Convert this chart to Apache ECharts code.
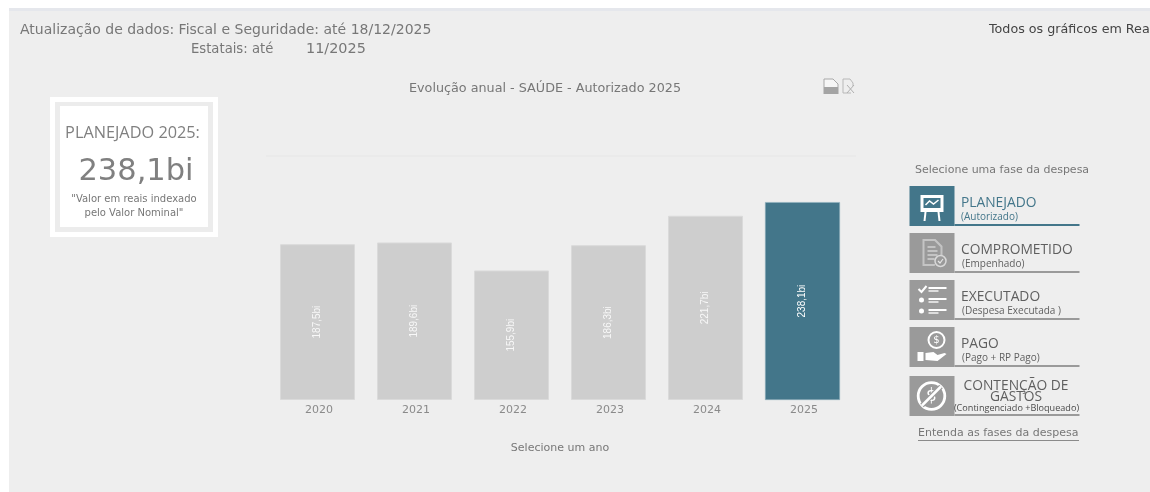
<!DOCTYPE html>
<html>
<head>
<meta charset="utf-8">
<style>
  html, body { margin: 0; padding: 0; background: #fff; }
  #painel { width: 1150px; height: 492px; }
</style>
<script src="https://cdn.jsdelivr.net/npm/echarts@6/dist/echarts.min.js"></script>
</head>
<body>
<div id="painel"></div>
<script>
// Valores anuais da despesa autorizada em saúde, em bilhões de reais
const anos = ['2020', '2021', '2022', '2023', '2024', '2025'];
const autorizado = [187.5, 189.6, 155.9, 186.3, 221.7, 238.1];
const anoSelecionado = '2025';

const fases = [
  { titulo: 'PLANEJADO', sub: '(Autorizado)', y: 186, ativo: true },
  { titulo: 'COMPROMETIDO', sub: '(Empenhado)', y: 233 },
  { titulo: 'EXECUTADO', sub: '(Despesa Executada )', y: 280 },
  { titulo: 'PAGO', sub: '(Pago + RP Pago)', y: 327 },
  { titulo: 'CONTENÇÃO DE', titulo2: 'GASTOS', sub: '(Contingenciado +Bloqueado)', y: 376 }
];

const AZUL = '#43768a';
const CINZA_ICONE = '#9a9a9a';
const FUNDO = '#eeeeee';
const SANS = '"DejaVu Sans", sans-serif';
const FASE = '"Open Sans", sans-serif';

const texto = (x, y, text, fontSize, fill, align = 'left', fontFamily = SANS, fontWeight = 'normal') => ({
  type: 'text', x, y, silent: true,
  style: { text, fontSize, fill, fontFamily, fontWeight, align, verticalAlign: 'middle' }
});
const caixa = (x, y, width, height, fill) => ({
  type: 'rect', shape: { x, y, width, height }, style: { fill }, silent: true
});
const traco = (x1, y1, x2, y2, stroke = '#fff', lineWidth = 2) => ({
  type: 'line', shape: { x1, y1, x2, y2 }, style: { stroke, lineWidth }, silent: true
});
const anel = (cx, cy, r, stroke = '#fff', lineWidth = 2, fill = 'none') => ({
  type: 'circle', shape: { cx, cy, r }, style: { stroke, lineWidth, fill }, silent: true
});
const linhaAberta = (points, stroke = '#fff', lineWidth = 1.5) => ({
  type: 'polyline', shape: { points }, style: { stroke, lineWidth, fill: 'none' }, silent: true
});
const poligono = (points, fill = '#fff') => ({
  type: 'polygon', shape: { points }, style: { fill }, silent: true
});

// Pictogramas das fases, desenhados a partir do canto do quadrado de cada botão
const icones = [
  (x, y) => [
    caixa(x + 11, y + 9, 23, 17, '#fff'),
    caixa(x + 14, y + 12, 17, 10, AZUL),
    linhaAberta([[x + 16, y + 19], [x + 20, y + 15], [x + 24, y + 18], [x + 29, y + 14]]),
    traco(x + 16, y + 26, x + 15, y + 35),
    traco(x + 29, y + 26, x + 30, y + 35)
  ],
  (x, y) => [
    poligono([[x + 13, y + 6], [x + 26, y + 6], [x + 33, y + 13], [x + 33, y + 24], [x + 30, y + 24], [x + 25, y + 33], [x + 13, y + 33]], '#c4c4c4'),
    poligono([[x + 15, y + 8], [x + 25, y + 8], [x + 31, y + 14], [x + 31, y + 23], [x + 25, y + 31], [x + 15, y + 31]], CINZA_ICONE),
    traco(x + 18, y + 14, x + 26, y + 14, '#d0d0d0', 1.5),
    traco(x + 18, y + 18, x + 28, y + 18, '#d0d0d0', 1.5),
    traco(x + 18, y + 22, x + 28, y + 22, '#d0d0d0', 1.5),
    traco(x + 18, y + 26, x + 25, y + 26, '#d0d0d0', 1.5),
    anel(x + 31, y + 28, 5.5, '#d8d8d8', 1.5, CINZA_ICONE),
    linhaAberta([[x + 28.5, y + 28], [x + 30.5, y + 30], [x + 33.5, y + 26]], '#e4e4e4', 1.2)
  ],
  (x, y) => [
    linhaAberta([[x + 9, y + 9], [x + 12, y + 12], [x + 17, y + 6]], '#fff', 2),
    caixa(x + 19, y + 7, 18, 2, '#fff'), caixa(x + 19, y + 10, 10, 2, '#ddd'),
    anel(x + 12, y + 20, 1.5, '#fff', 2, '#fff'),
    caixa(x + 19, y + 18, 18, 2, '#fff'), caixa(x + 19, y + 21, 10, 2, '#ddd'),
    anel(x + 12, y + 31, 1.5, '#fff', 2, '#fff'),
    caixa(x + 19, y + 29, 18, 2, '#fff'), caixa(x + 19, y + 32, 10, 2, '#ddd')
  ],
  (x, y) => [
    anel(x + 27, y + 13, 8, '#fff', 2),
    texto(x + 27, y + 13.5, '$', 10, '#fff', 'center'),
    caixa(x + 8, y + 25, 6, 9, '#fff'),
    poligono([[x + 16, y + 26], [x + 24, y + 25], [x + 28, y + 28], [x + 35, y + 26], [x + 37, y + 27], [x + 28, y + 34], [x + 16, y + 33]])
  ],
  (x, y) => [
    anel(x + 22, y + 20, 13.3, '#fff', 2.8),
    texto(x + 22, y + 20.5, '$', 17, '#fff', 'center'),
    traco(x + 12.5, y + 29.5, x + 31.5, y + 10.5, CINZA_ICONE, 5),
    traco(x + 12.5, y + 29.5, x + 31.5, y + 10.5, '#fff', 2.5)
  ]
];

const botoesDeFase = fases.flatMap((fase, i) => {
  const cor = fase.ativo ? AZUL : CINZA_ICONE;
  const corTexto = fase.ativo ? AZUL : '#5f5f5f';
  const x = 909.5, altura = 40;
  const partes = [
    caixa(x, fase.y, 45, altura, cor),
    caixa(x + 45, fase.y + altura - 2, 125, 2, cor),
    ...icones[i](x, fase.y)
  ];
  if (fase.titulo2) {
    partes.push(
      texto(1016, fase.y + 10, fase.titulo, 13.8, corTexto, 'center', FASE),
      texto(1016, fase.y + 21.5, fase.titulo2, 13.8, corTexto, 'center', FASE),
      texto(1016.5, fase.y + 32.5, fase.sub, 9.1, '#4a4a4a', 'center', FASE)
    );
  } else {
    partes.push(
      texto(961, fase.y + 17.5, fase.titulo, 13.8, corTexto, 'left', FASE),
      texto(962 - (fase.ativo ? 1 : 0), fase.y + 31, fase.sub, 10, corTexto, 'left', FASE)
    );
  }
  return partes;
});

const fundo = [
  caixa(9, 8, 1141, 484, FUNDO),
  caixa(9, 8, 1141, 3, '#e5e7ec'),
  // separador no topo da área de plotagem
  caixa(266, 155.5, 590, 1, '#e6e6e6')
];

const cartao = [
  caixa(50, 97, 168, 140, '#fff'),
  caixa(55, 102, 158, 130, '#ececec'),
  caixa(60, 106, 148, 121, '#fff'),
  texto(132.5, 133.5, 'PLANEJADO 2025:', 16.3, '#808080', 'center', FASE),
  texto(136, 172.5, '238,1bi', 30.5, '#808080', 'center', SANS),
  texto(134, 199, '"Valor em reais indexado', 10, '#777', 'center'),
  texto(134, 213, 'pelo Valor Nominal"', 10, '#777', 'center')
];

const cabecalho = [
  texto(20, 30.5, 'Atualização de dados: Fiscal e Seguridade: até 18/12/2025', 14, '#777'),
  texto(191, 49.5, 'Estatais: até', 13.2, '#777'),
  texto(306, 49.5, '11/2025', 14.4, '#777'),
  texto(989, 30, 'Todos os gráficos em Rea', 12.7, '#444'),
  texto(915, 170, 'Selecione uma fase da despesa', 11, '#777'),
  texto(918, 433.5, 'Entenda as fases da despesa', 11, '#777'),
  caixa(918, 440, 161, 1, '#8a8a8a')
];

// Botões de exportação ao lado do título
const exportar = [
  poligono([[824, 79], [833, 79], [838, 84], [838, 94], [824, 94]], '#f6f6f6'),
  linhaAberta([[824, 87], [824, 79], [833, 79], [838, 84], [838, 87]], '#a8a8a8', 1),
  caixa(823.5, 87, 15, 7, '#a4a4a4'),
  linhaAberta([[851, 93], [843, 93], [843, 79], [850, 79], [853, 83], [853, 86]], '#b8b8b8', 1),
  linhaAberta([[847, 85], [854, 93]], '#b0b0b0', 1),
  linhaAberta([[854, 85], [847, 93]], '#b0b0b0', 1)
];

const chart = echarts.init(document.getElementById('painel'), null, { renderer: 'canvas' });
chart.setOption({
  animation: false,
  backgroundColor: '#fff',
  title: {
    text: 'Evolução anual - SAÚDE - Autorizado 2025',
    left: 540, top: 77, textAlign: 'center',
    textStyle: { fontSize: 12.75, fontWeight: 'normal', color: '#777', fontFamily: SANS }
  },
  grid: { left: 269, top: 156, width: 582, height: 244 },
  xAxis: {
    type: 'category',
    data: anos,
    name: 'Selecione um ano',
    nameLocation: 'middle',
    nameGap: 42.5,
    nameTextStyle: { fontSize: 11, color: '#777', fontFamily: SANS },
    axisLine: { show: false },
    axisTick: { show: false },
    axisLabel: { margin: 5, fontSize: 11, color: '#8a8a8a', fontFamily: SANS, padding: [0, 0, 0, 3] }
  },
  yAxis: {
    type: 'value', min: 0, max: 293.6,
    axisLine: { show: false }, axisTick: { show: false },
    axisLabel: { show: false }, splitLine: { show: false }
  },
  series: [{
    type: 'bar',
    barWidth: 75,
    z: 5,
    data: autorizado.map((value, i) => ({
      value,
      itemStyle: anos[i] === anoSelecionado
        ? { color: AZUL, borderColor: '#8fb0bd', borderWidth: 0.6 }
        : { color: '#cecece', borderColor: '#dadada', borderWidth: 1 },
      label: { color: anos[i] === anoSelecionado ? '#fff' : '#f8f8f8' }
    })),
    label: {
      show: true,
      position: 'inside',
      rotate: 90,
      fontSize: 10,
      fontFamily: '"Liberation Sans", Arial, sans-serif',
      formatter: p => p.value.toFixed(1).replace('.', ',') + 'bi'
    }
  }],
  graphic: {
    elements: [
      { type: 'group', z: -10, silent: true, children: fundo },
      { type: 'group', z: 10, silent: true, children: [...cabecalho, ...cartao, ...exportar, ...botoesDeFase] }
    ]
  }
});
</script>
</body>
</html>
